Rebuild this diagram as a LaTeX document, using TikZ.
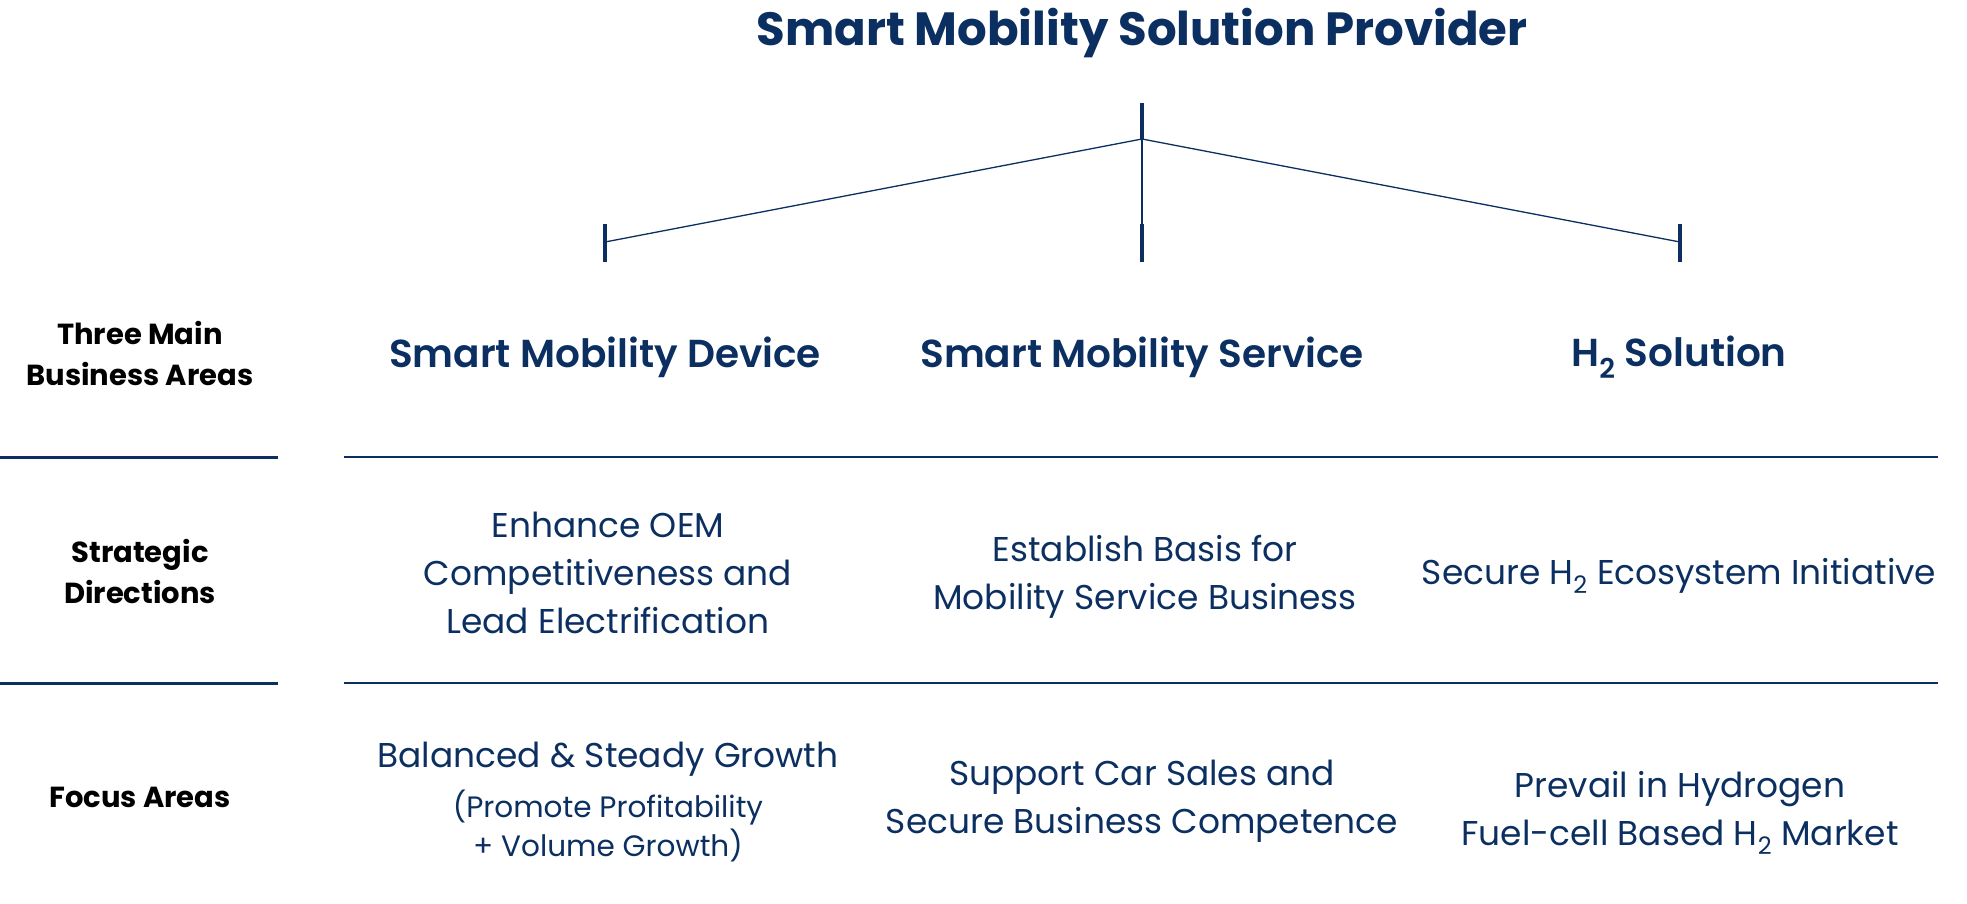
\documentclass[tikz,border=0pt]{standalone}
\usepackage{fontspec}
\setmainfont{Poppins}
\newfontfamily\semibold{Poppins SemiBold}
\usepackage{tikz}
\definecolor{navy}{HTML}{0B2F60}

\begin{document}
\begin{tikzpicture}[x=1pt, y=-1pt, node distance=537pt,
  title/.style={text=navy, font=\bfseries\fontsize{46.6}{56}\selectfont},
  head/.style={text=navy, font=\semibold\fontsize{39}{44}\selectfont},
  rowlab/.style={text=black, align=center, font=\bfseries\fontsize{29}{41}\selectfont},
  item/.style={text=navy, align=center, font=\fontsize{34.4}{48}\selectfont},
  small/.style={text=navy, align=center, font=\fontsize{29.5}{39}\selectfont},
  tick/.style={draw=navy, line width=3.5pt},
  thin/.style={draw=navy, line width=1.3pt},
  thick/.style={draw=navy, line width=3pt}]
\useasboundingbox (0,0) rectangle (1967,903);

\node[title] (prov) at (1142,33) {Smart Mobility Solution Provider};

% three areas
\node[head] (dev) at (605,357) {Smart Mobility Device};
\node[head] (svc) [right of=dev] {Smart Mobility Service};
\node[head] (h2) [right of=svc] {H\textsubscript{2} Solution};

% tree
\coordinate (t0) at (1142,103);
\coordinate (apex) at (1142,139);
\coordinate (l0) at (605,224);
\coordinate (l1) at (605,262);
\coordinate (lm) at (605,242);
\coordinate (m0) at (1142,224);
\coordinate (m1) at (1142,262);
\coordinate (r0) at (1680,224);
\coordinate (r1) at (1680,262);
\coordinate (rm) at (1680,242);
\draw[tick] (t0) -- (apex);
\draw[tick] (l0) -- (l1);
\draw[tick] (m0) -- (m1);
\draw[tick] (r0) -- (r1);
\draw[thin] (apex) -- (lm);
\draw[thin] (apex) -- (rm);
\draw[thin] (apex) -- (m0);

% row labels
\node[rowlab] (areas) at (140,353) {Three Main\\Business Areas};
\node[rowlab] (dirs) at (140,571) {Strategic\\Directions};
\node[rowlab] (focus) at (140,797) {Focus Areas};

% separators
\coordinate (a0) at (0,457);
\coordinate (a1) at (278,457);
\coordinate (a2) at (344,457);
\coordinate (a3) at (1938,457);
\coordinate (b0) at (0,683);
\coordinate (b1) at (278,683);
\coordinate (b2) at (344,683);
\coordinate (b3) at (1938,683);
\draw[thick] (a0) -- (a1);
\draw[thin] (a2) -- (a3);
\draw[thick] (b0) -- (b1);
\draw[thin] (b2) -- (b3);

% strategic directions
\node[item] (dir1) at (608,573) {Enhance OEM\\Competitiveness and\\Lead Electrification};
\node[item] (dir2) at (1145,577) {Establish Basis for\\Mobility Service Business};
\node[item] (dir3) at (1679,576) {Secure H\textsubscript{2} Ecosystem Initiative};

% focus areas
\node[item] (foc1) at (608,759) {Balanced \& Steady Growth};
\node[small] (foc1b) at (608,826) {(Promote Profitability\\+ Volume Growth)};
\node[item] (foc2) at (1142,801) {Support Car Sales and\\Secure Business Competence};
\node[item] (foc3) at (1680,813) {Prevail in Hydrogen\\Fuel-cell Based H\textsubscript{2} Market};
\end{tikzpicture}
\end{document}
